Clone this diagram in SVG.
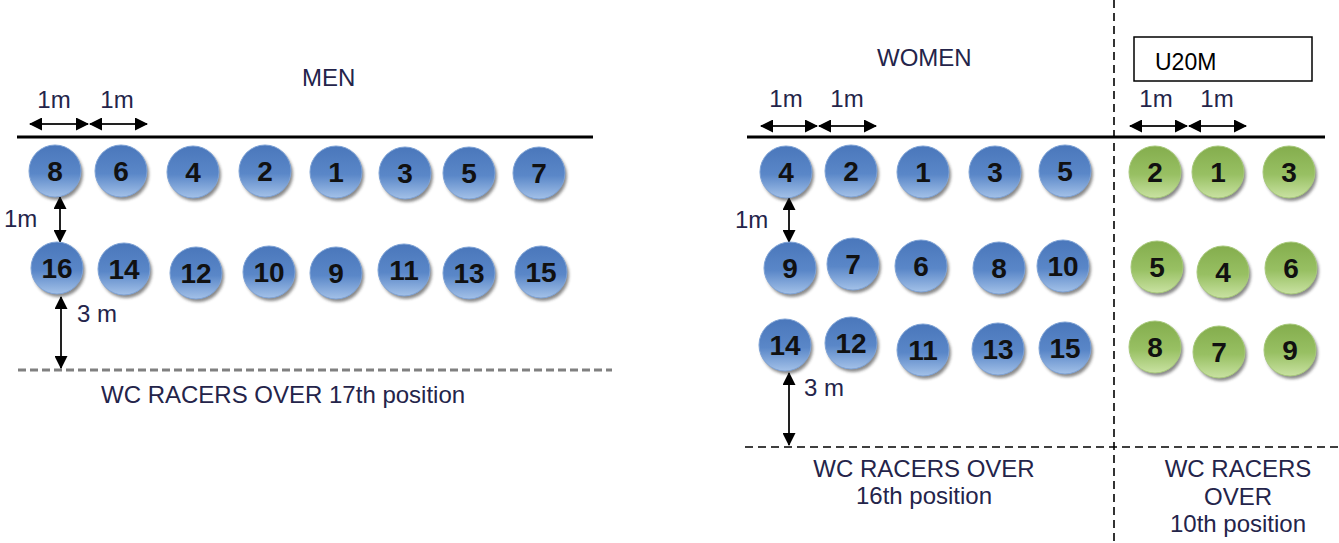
<svg xmlns="http://www.w3.org/2000/svg" width="1339" height="543" viewBox="0 0 1339 543">
<style>
.lbl{font-family:"Liberation Sans",Arial,sans-serif;font-size:24px;fill:#24244a}
.ctr{text-anchor:middle}
.num{font-family:"Liberation Sans",Arial,sans-serif;font-size:28px;font-weight:bold;fill:#111;text-anchor:middle}
.shd{fill:#2a2a2a;opacity:0.55;filter:url(#blur)}
.bb{fill:url(#gb);stroke:#7fa3d6;stroke-width:1}
.gb{fill:url(#gg);stroke:#a8c97c;stroke-width:1}
.arr{stroke:#222;stroke-width:2;fill:none;marker-start:url(#ah);marker-end:url(#ah)}
</style>
<defs>
<linearGradient id="gb" x1="0" y1="0" x2="0" y2="1">
<stop offset="0" stop-color="#4a77bb"/>
<stop offset="0.55" stop-color="#5a87c8"/>
<stop offset="1" stop-color="#a3c1e8"/>
</linearGradient>
<linearGradient id="gg" x1="0" y1="0" x2="0" y2="1">
<stop offset="0" stop-color="#84ad4d"/>
<stop offset="0.55" stop-color="#98c063"/>
<stop offset="1" stop-color="#c9e2a2"/>
</linearGradient>
<filter id="blur" x="-20%" y="-20%" width="140%" height="140%"><feGaussianBlur stdDeviation="1.5"/></filter>
<marker id="ah" viewBox="0 0 13 13" refX="12" refY="6.5" markerWidth="13" markerHeight="13" markerUnits="userSpaceOnUse" orient="auto-start-reverse">
<path d="M0,0 L13,6.5 L0,13 Z" fill="#000"/>
</marker>
</defs>
<rect width="1339" height="543" fill="#fff"/>

<g id="lines">
<line x1="17" y1="137" x2="593" y2="137" stroke="#000" stroke-width="3"/>
<line x1="18" y1="370" x2="612" y2="370" stroke="#808080" stroke-width="3" stroke-dasharray="8,4"/>
<line x1="747" y1="137" x2="1325" y2="137" stroke="#000" stroke-width="3"/>
<line x1="745" y1="447" x2="1339" y2="447" stroke="#000" stroke-width="1.6" stroke-dasharray="8,5"/>
<line x1="1114" y1="0" x2="1114" y2="543" stroke="#000" stroke-width="1.6" stroke-dasharray="8,5"/>
<rect x="1134" y="37" width="178" height="44" fill="none" stroke="#000" stroke-width="1.5"/>
</g>

<g id="connectors">
<line class="arr" x1="30" y1="124" x2="88" y2="124"/>
<line class="arr" x1="90" y1="124" x2="147" y2="124"/>
<line class="arr" x1="60" y1="197" x2="60" y2="242"/>
<line class="arr" x1="61" y1="297" x2="61" y2="368"/>
<line class="arr" x1="761" y1="126" x2="817" y2="126"/>
<line class="arr" x1="819" y1="126" x2="876" y2="126"/>
<line class="arr" x1="789" y1="198" x2="789" y2="242"/>
<line class="arr" x1="789" y1="373" x2="789" y2="445"/>
<line class="arr" x1="1130" y1="126" x2="1187" y2="126"/>
<line class="arr" x1="1189" y1="126" x2="1246" y2="126"/>
</g>

<g id="labels">
<text class="lbl" x="302" y="86">MEN</text>
<text class="lbl ctr" x="54" y="108">1m</text>
<text class="lbl ctr" x="117" y="108">1m</text>
<text class="lbl" x="4" y="227">1m</text>
<text class="lbl" x="77" y="322">3 m</text>
<text class="lbl" x="101" y="403">WC RACERS OVER 17th position</text>
<text class="lbl" x="877" y="66">WOMEN</text>
<text class="lbl ctr" x="786" y="107">1m</text>
<text class="lbl ctr" x="847" y="107">1m</text>
<text class="lbl" x="735" y="228">1m</text>
<text class="lbl" x="804" y="396">3 m</text>
<text class="lbl ctr" x="924" y="477">WC RACERS OVER</text>
<text class="lbl ctr" x="924" y="504">16th position</text>
<text x="1155" y="70" style="font-family:'Liberation Sans',Arial,sans-serif;font-size:23px;fill:#000">U20M</text>
<text class="lbl ctr" x="1156" y="107">1m</text>
<text class="lbl ctr" x="1217" y="107">1m</text>
<text class="lbl ctr" x="1238" y="477">WC RACERS</text>
<text class="lbl ctr" x="1238" y="505">OVER</text>
<text class="lbl ctr" x="1238" y="532">10th position</text>
</g>

<g id="men">
<g id="m8"><circle class="shd" cx="57" cy="174" r="26"/><circle class="bb" cx="55" cy="171" r="26"/><text class="num" x="55" y="181">8</text></g>
<g id="m6"><circle class="shd" cx="123" cy="174" r="26"/><circle class="bb" cx="121" cy="171" r="26"/><text class="num" x="121" y="181">6</text></g>
<g id="m4"><circle class="shd" cx="195" cy="175" r="26"/><circle class="bb" cx="193" cy="172" r="26"/><text class="num" x="193" y="182">4</text></g>
<g id="m2"><circle class="shd" cx="267" cy="174" r="26"/><circle class="bb" cx="265" cy="171" r="26"/><text class="num" x="265" y="181">2</text></g>
<g id="m1"><circle class="shd" cx="338" cy="175" r="26"/><circle class="bb" cx="336" cy="172" r="26"/><text class="num" x="336" y="182">1</text></g>
<g id="m3"><circle class="shd" cx="407" cy="176" r="26"/><circle class="bb" cx="405" cy="173" r="26"/><text class="num" x="405" y="183">3</text></g>
<g id="m5"><circle class="shd" cx="471" cy="176" r="26"/><circle class="bb" cx="469" cy="173" r="26"/><text class="num" x="469" y="183">5</text></g>
<g id="m7"><circle class="shd" cx="541" cy="176" r="26"/><circle class="bb" cx="539" cy="173" r="26"/><text class="num" x="539" y="183">7</text></g>
<g id="m16"><circle class="shd" cx="59" cy="271" r="26"/><circle class="bb" cx="57" cy="268" r="26"/><text class="num" x="57" y="278">16</text></g>
<g id="m14"><circle class="shd" cx="126" cy="272" r="26"/><circle class="bb" cx="124" cy="269" r="26"/><text class="num" x="124" y="279">14</text></g>
<g id="m12"><circle class="shd" cx="198" cy="276" r="26"/><circle class="bb" cx="196" cy="273" r="26"/><text class="num" x="196" y="283">12</text></g>
<g id="m10"><circle class="shd" cx="271" cy="275" r="26"/><circle class="bb" cx="269" cy="272" r="26"/><text class="num" x="269" y="282">10</text></g>
<g id="m9"><circle class="shd" cx="338" cy="276" r="26"/><circle class="bb" cx="336" cy="273" r="26"/><text class="num" x="336" y="283">9</text></g>
<g id="m11"><circle class="shd" cx="406" cy="273" r="26"/><circle class="bb" cx="404" cy="270" r="26"/><text class="num" x="404" y="280">11</text></g>
<g id="m13"><circle class="shd" cx="471" cy="276" r="26"/><circle class="bb" cx="469" cy="273" r="26"/><text class="num" x="469" y="283">13</text></g>
<g id="m15"><circle class="shd" cx="543" cy="275" r="26"/><circle class="bb" cx="541" cy="272" r="26"/><text class="num" x="541" y="282">15</text></g>
</g>

<g id="women">
<g id="w4"><circle class="shd" cx="788" cy="175" r="26"/><circle class="bb" cx="786" cy="172" r="26"/><text class="num" x="786" y="182">4</text></g>
<g id="w2"><circle class="shd" cx="853" cy="174" r="26"/><circle class="bb" cx="851" cy="171" r="26"/><text class="num" x="851" y="181">2</text></g>
<g id="w1"><circle class="shd" cx="925" cy="175" r="26"/><circle class="bb" cx="923" cy="172" r="26"/><text class="num" x="923" y="182">1</text></g>
<g id="w3"><circle class="shd" cx="997" cy="175" r="26"/><circle class="bb" cx="995" cy="172" r="26"/><text class="num" x="995" y="182">3</text></g>
<g id="w5"><circle class="shd" cx="1067" cy="174" r="26"/><circle class="bb" cx="1065" cy="171" r="26"/><text class="num" x="1065" y="181">5</text></g>
<g id="w9"><circle class="shd" cx="792" cy="271" r="26"/><circle class="bb" cx="790" cy="268" r="26"/><text class="num" x="790" y="278">9</text></g>
<g id="w7"><circle class="shd" cx="855" cy="267" r="26"/><circle class="bb" cx="853" cy="264" r="26"/><text class="num" x="853" y="274">7</text></g>
<g id="w6"><circle class="shd" cx="923" cy="269" r="26"/><circle class="bb" cx="921" cy="266" r="26"/><text class="num" x="921" y="276">6</text></g>
<g id="w8"><circle class="shd" cx="1001" cy="271" r="26"/><circle class="bb" cx="999" cy="268" r="26"/><text class="num" x="999" y="278">8</text></g>
<g id="w10"><circle class="shd" cx="1065" cy="269" r="26"/><circle class="bb" cx="1063" cy="266" r="26"/><text class="num" x="1063" y="276">10</text></g>
<g id="w14"><circle class="shd" cx="787" cy="348" r="26"/><circle class="bb" cx="785" cy="345" r="26"/><text class="num" x="785" y="355">14</text></g>
<g id="w12"><circle class="shd" cx="853" cy="346" r="26"/><circle class="bb" cx="851" cy="343" r="26"/><text class="num" x="851" y="353">12</text></g>
<g id="w11"><circle class="shd" cx="925" cy="353" r="26"/><circle class="bb" cx="923" cy="350" r="26"/><text class="num" x="923" y="360">11</text></g>
<g id="w13"><circle class="shd" cx="1000" cy="352" r="26"/><circle class="bb" cx="998" cy="349" r="26"/><text class="num" x="998" y="359">13</text></g>
<g id="w15"><circle class="shd" cx="1067" cy="351" r="26"/><circle class="bb" cx="1065" cy="348" r="26"/><text class="num" x="1065" y="358">15</text></g>
</g>

<g id="u20m">
<g id="u2"><circle class="shd" cx="1157" cy="175" r="26"/><circle class="gb" cx="1155" cy="172" r="26"/><text class="num" x="1155" y="182">2</text></g>
<g id="u1"><circle class="shd" cx="1220" cy="175" r="26"/><circle class="gb" cx="1218" cy="172" r="26"/><text class="num" x="1218" y="182">1</text></g>
<g id="u3"><circle class="shd" cx="1291" cy="175" r="26"/><circle class="gb" cx="1289" cy="172" r="26"/><text class="num" x="1289" y="182">3</text></g>
<g id="u5"><circle class="shd" cx="1159" cy="270" r="26"/><circle class="gb" cx="1157" cy="267" r="26"/><text class="num" x="1157" y="277">5</text></g>
<g id="u4"><circle class="shd" cx="1225" cy="275" r="26"/><circle class="gb" cx="1223" cy="272" r="26"/><text class="num" x="1223" y="282">4</text></g>
<g id="u6"><circle class="shd" cx="1293" cy="271" r="26"/><circle class="gb" cx="1291" cy="268" r="26"/><text class="num" x="1291" y="278">6</text></g>
<g id="u8"><circle class="shd" cx="1157" cy="350" r="26"/><circle class="gb" cx="1155" cy="347" r="26"/><text class="num" x="1155" y="357">8</text></g>
<g id="u7"><circle class="shd" cx="1221" cy="355" r="26"/><circle class="gb" cx="1219" cy="352" r="26"/><text class="num" x="1219" y="362">7</text></g>
<g id="u9"><circle class="shd" cx="1292" cy="353" r="26"/><circle class="gb" cx="1290" cy="350" r="26"/><text class="num" x="1290" y="360">9</text></g>
</g>
</svg>
